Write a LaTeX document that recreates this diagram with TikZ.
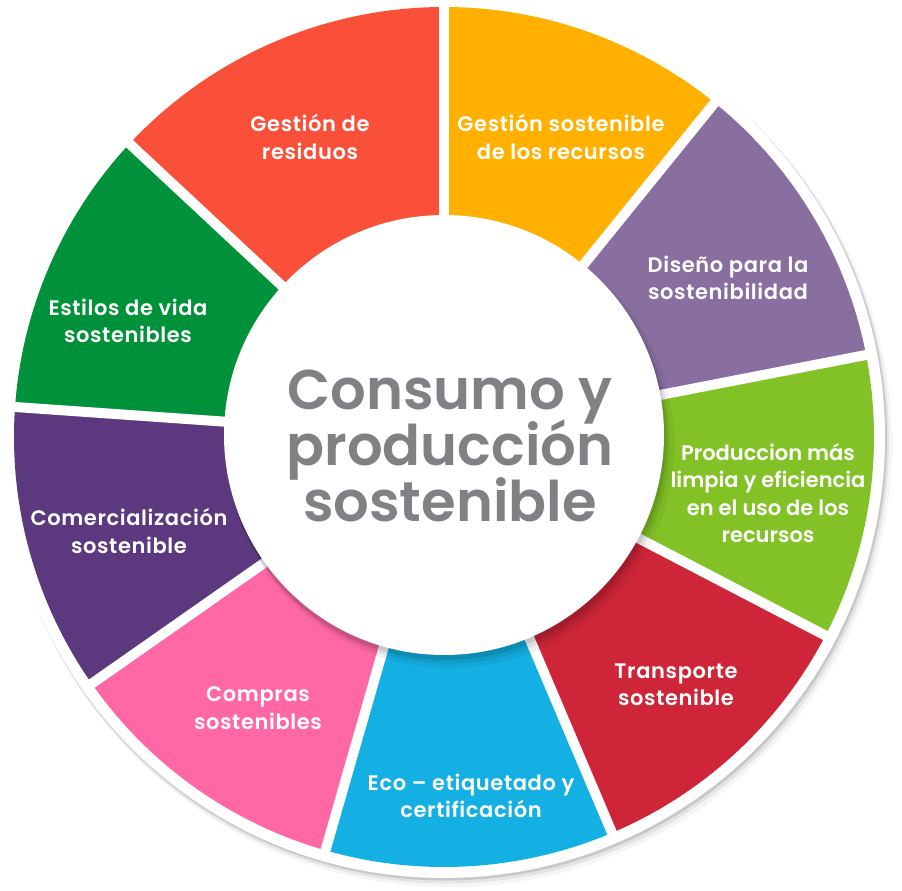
\documentclass[tikz,border=0pt]{standalone}
\usepackage{fontspec}
\setmainfont{Poppins}[BoldFont={Poppins SemiBold}]
\definecolor{cRed}{RGB}{250,80,58}
\definecolor{cOrange}{RGB}{255,176,0}
\definecolor{cLila}{RGB}{137,110,160}
\definecolor{cLime}{RGB}{130,194,38}
\definecolor{cCrimson}{RGB}{206,37,56}
\definecolor{cCyan}{RGB}{20,176,228}
\definecolor{cPink}{RGB}{255,104,164}
\definecolor{cViolet}{RGB}{92,57,127}
\definecolor{cGreen}{RGB}{0,146,58}
\definecolor{cGrayText}{RGB}{128,129,133}
\newcommand{\ctrfont}{\bfseries\fontsize{56}{56}\selectfont\lineskiplimit=-100pt\relax}
\newcommand{\lblfont}{\bfseries\fontsize{21}{27.5}\selectfont\addfontfeature{LetterSpace=3}\lineskiplimit=-100pt\relax}
\newcommand{\lblfontnarrow}{\bfseries\fontsize{21}{27.5}\selectfont\lineskiplimit=-100pt\relax}
\begin{document}
\begin{tikzpicture}[x=1pt,y=1pt,
  lbl/.style={text=white,align=center,font=\lblfont},
  lblnarrow/.style={text=white,align=center,font=\lblfontnarrow},
  gapline/.style={white,line width=10pt}]
\useasboundingbox (-444,-454) rectangle (458,437);
% outer shadow
\fill[black,opacity=0.04] (5,-7) circle (443);
\fill[black,opacity=0.07] (3,-4.5) circle (442);
\fill[black,opacity=0.12] (1.5,-2) circle (441.5);
\fill[white] (0,0) circle (441);
% segments
\newcommand{\wedgeseg}[3]{\fill[#3] (0,0) -- (#1:430) arc[start angle=#1, end angle=#2, radius=430] -- cycle;}
\wedgeseg{90}{137}{cRed}
\wedgeseg{137}{176}{cGreen}
\wedgeseg{176}{215}{cViolet}
\wedgeseg{215}{254}{cPink}
\wedgeseg{254}{293}{cCyan}
\wedgeseg{293}{332.5}{cCrimson}
\wedgeseg{332.5}{371}{cLime}
\wedgeseg{11}{51}{cLila}
\wedgeseg{51}{90}{cOrange}
% gaps
\foreach \a in {90,137,176,215,254,293,332.5,11,51}
  \draw[gapline] (0,0) -- (\a:436);
% inner disk shadow
\fill[black,opacity=0.05] (6,-7) circle (224);
\fill[black,opacity=0.07] (3.5,-4.5) circle (222);
\fill[black,opacity=0.10] (1.5,-2) circle (221);
\fill[white] (0,2) circle (220);
% center text
\node[text=cGrayText,align=center,font=\ctrfont] (center) at (6,-9) {Consumo y\\producción\\sostenible};
% labels
\node[lbl] (residuos) at (-134,300) {Gestión de\\residuos};
\node[lbl] (recursos) at (117,300) {Gestión sostenible\\de los recursos};
\node[lbl] (diseno) at (284,159) {Diseño para la\\sostenibilidad};
\node[lblnarrow] (produccion) at (324,-56) {Produccion más\\limpia y eficiencia\\en el uso de los\\recursos};
\node[lbl] (transporte) at (232,-248) {Transporte\\sostenible};
\node[lbl] (eco) at (27,-359) {Eco – etiquetado y\\certificación};
\node[lbl] (compras) at (-186,-271) {Compras\\sostenibles};
\node[lbl] (comercial) at (-315,-94) {Comercialización\\sostenible};
\node[lbl] (estilos) at (-316,116) {Estilos de vida\\sostenibles};
\end{tikzpicture}
\end{document}
